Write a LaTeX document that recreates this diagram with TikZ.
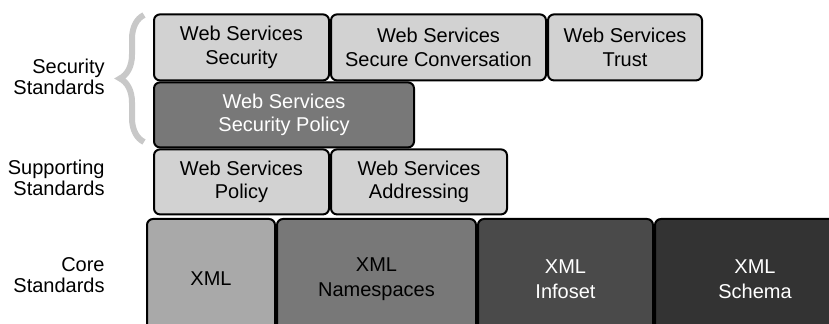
\documentclass[tikz,border=0pt]{standalone}
\usepackage{fontspec}
\setmainfont{Liberation Sans}
\usepackage{xcolor}
\usepackage{tikz}
\usetikzlibrary{positioning, decorations.pathreplacing}

\definecolor{litegray}{HTML}{D2D2D2}
\definecolor{midgray}{HTML}{787878}
\definecolor{xmlgray}{HTML}{A9A9A9}
\definecolor{infogray}{HTML}{4A4A4A}
\definecolor{schemagray}{HTML}{333333}
\definecolor{bracegray}{HTML}{C8C8C8}

\begin{document}
\begin{tikzpicture}[
    x=1pt, y=1pt,
    node distance=0pt,
    stdbox/.style={rectangle, draw=black, rounded corners=3pt, line width=1pt,
                   align=center, inner sep=0pt, fill=#1,
                   font=\fontsize{10}{11.8}\selectfont},
    litebox/.style={stdbox=litegray, minimum height=32.5},
    corebox/.style={stdbox=#1, minimum height=60,
                    font=\fontsize{10}{12.5}\selectfont},
    lbl/.style={align=right, anchor=east, inner sep=0pt,
                font=\fontsize{10}{10.5}\selectfont},
]
    \clip (0,0) rectangle (414.5,-162);

    % Security standards
    \node[litebox, minimum width=87.5, minimum height=33, anchor=north west] (wss) at (76.5,-6.7) {Web Services\\Security};
    \node[litebox, minimum width=107.5, minimum height=33, right=of wss] (wssc) {Web Services\\Secure Conversation};
    \node[litebox, minimum width=77, minimum height=33, right=of wssc] (wst) {Web Services\\Trust};
    \node[stdbox=midgray, text=white, minimum width=130, minimum height=32.5,
          below=of wss.south west, anchor=north west] (wssp) {Web Services\\Security Policy};

    % Supporting standards
    \node[litebox, minimum width=87.5, below=of wssp.south west, anchor=north west] (wsp) {Web Services\\Policy};
    \node[litebox, minimum width=88, right=of wsp] (wsa) {Web Services\\Addressing};

    % Core standards
    \node[corebox=xmlgray, minimum width=64, anchor=north west] (xml) at (73,-109) {XML};
    \node[corebox=midgray, minimum width=99.5, right=of xml] (ns) {XML\\Namespaces};
    \node[corebox=infogray, text=white, minimum width=87.5, right=of ns] (info) {XML\\Infoset};
    \node[corebox=schemagray, text=white, minimum width=100, right=of info] (schema) {XML\\Schema};

    % Brace and labels
    \draw[decorate, decoration={brace, amplitude=12}, line width=3pt, bracegray] (72,-71) -- (72,-7.5);
    \node[lbl] (seclbl) at (52.5,-38.5) {Security\\Standards};
    \node[lbl] (suplbl) at (52.5,-89) {Supporting\\Standards};
    \node[lbl] (corelbl) at (52.5,-137.5) {Core\\Standards};
\end{tikzpicture}
\end{document}
